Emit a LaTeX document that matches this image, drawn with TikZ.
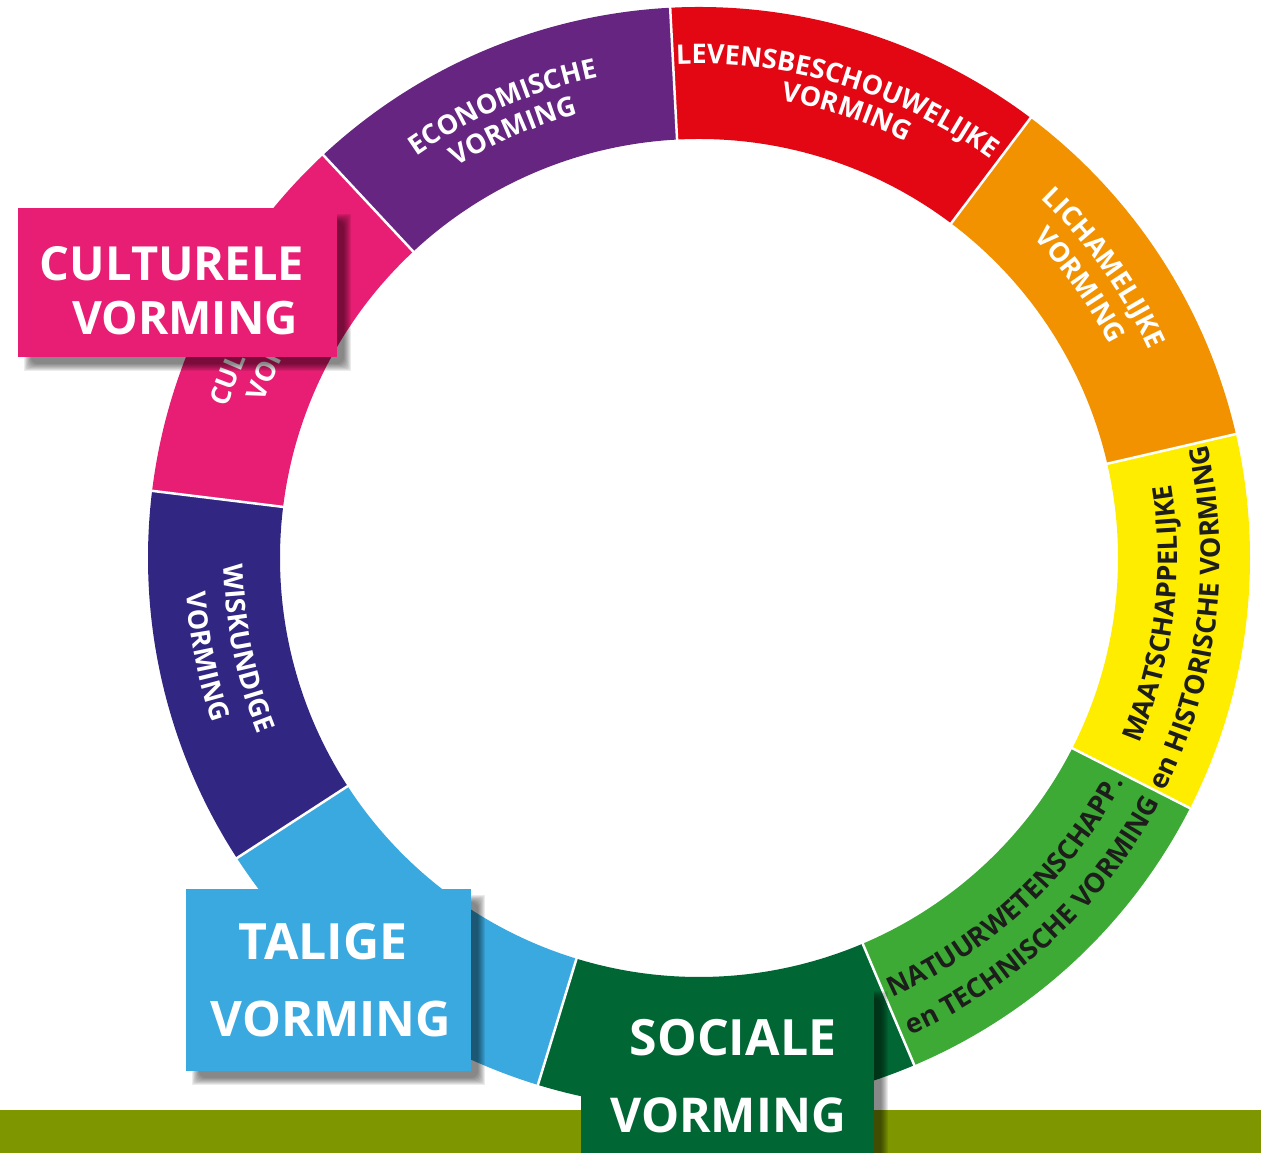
\documentclass[tikz,border=0pt]{standalone}
\usepackage{fontspec}
\setmainfont{Open Sans}
\newfontfamily\ringfont{Open Sans}
\newfontfamily\boxfont{Open Sans}
\usetikzlibrary{decorations.text,calc}
\definecolor{cPurple}{RGB}{101,37,129}
\definecolor{cRed}{RGB}{227,6,19}
\definecolor{cOrange}{RGB}{243,146,0}
\definecolor{cYellow}{RGB}{255,237,0}
\definecolor{cGreen}{RGB}{61,170,53}
\definecolor{cDkGreen}{RGB}{0,102,51}
\definecolor{cLtBlue}{RGB}{58,169,224}
\definecolor{cNavy}{RGB}{49,39,131}
\definecolor{cPink}{RGB}{231,30,115}
\definecolor{cBar}{RGB}{126,150,0}
\definecolor{cInk}{RGB}{29,29,27}
\newcommand\ringseg[3]{\fill[#3] (#1:419) -- (#1:551) arc[start angle=#1,end angle=#2,radius=551] -- (#2:419) arc[start angle=#2,end angle=#1,radius=419] -- cycle;}
% #1 start angle, #2 end angle, #3 baseline radius, #4 colour, #5 text
\newcommand\ringtext[5]{\path[decorate,decoration={text along path,text align=center,text color=#4,text={|\ringfont\bfseries\fontsize{27}{27}\selectfont|#5}}] (#1:#3) arc[start angle=#1,end angle=#2,radius=#3];}
\newcommand\ringtextleft[5]{\path[decorate,decoration={text along path,text align=left,text color=#4,text={|\ringfont\bfseries\fontsize{27}{27}\selectfont|#5}}] (#1:#3) arc[start angle=#1,end angle=#2,radius=#3];}
% soft shadow: #1 = lower-left corner, #2 = upper-right corner (already offset)
\newcommand\softshadow[2]{%
  \foreach \k in {0,...,7}{%
    \fill[black, opacity=0.075, rounded corners=\k pt] ($(#1)+(\k,\k)-(4,4)$) rectangle ($(#2)-(\k,\k)+(4,4)$);}}
\begin{document}
\begin{tikzpicture}[x=1pt,y=1pt,
  lbl/.style={font=\boxfont\bfseries\fontsize{50}{50}\selectfont, text=white, inner sep=0pt},
  card/.style={inner sep=0pt},
  sep/.style={white, line width=2.5pt}]
\useasboundingbox (0,0) rectangle (1261,1153);
\fill[white] (0,0) rectangle (1261,1153);
\begin{scope}[shift={(699,595)}]
  \ringseg{93}{133}{cPurple}
  \ringseg{53}{93}{cRed}
  \ringseg{13}{53}{cOrange}
  \ringseg{-27}{13}{cYellow}
  \ringseg{-67}{-27}{cGreen}
  \ringseg{-107}{-67}{cDkGreen}
  \ringseg{-147}{-107}{cLtBlue}
  \ringseg{173}{213}{cNavy}
  \ringseg{133}{173}{cPink}
  \foreach \a in {93,53,13,-27,-67,-107,-147,173,133}
    \draw[sep] (\a:417) -- (\a:553);
  % upper half: clockwise, letters pointing outward
  \ringtext{148.5}{78.5}{491}{white}{ECONOMISCHE}
  \ringtext{148.5}{78.5}{460}{white}{VORMING}
  \ringtext{108.2}{38.2}{494}{white}{LEVENSBESCHOUWELIJKE}
  \ringtext{106.7}{36.7}{465}{white}{VORMING}
  \ringtext{70.6}{0.6}{496}{white}{LICHAMELIJKE}
  \ringtext{70.6}{0.6}{463}{white}{VORMING}
  \ringtextleft{162.3}{100}{495}{white}{CUL}
  \ringtextleft{160.3}{100}{462}{white}{VOR}
  % lower half: counter-clockwise, letters pointing inward
  \ringtext{-42}{28}{478}{cInk}{MAATSCHAPPELIJKE}
  \ringtext{-42}{28}{521}{cInk}{en HISTORISCHE VORMING}
  \ringtext{-82}{-12}{480}{cInk}{NATUURWETENSCHAPP.}
  \ringtext{-82}{-12}{522}{cInk}{en TECHNISCHE VORMING}
  \ringtext{156.3}{226.3}{475}{white}{WISKUNDIGE}
  \ringtext{156.3}{226.3}{514}{white}{VORMING}
\end{scope}
\fill[cBar] (0,0) rectangle (1261,43);
% culturele
\softshadow{28,786}{347,935}
\node[card, fill=cPink, minimum width=319pt, minimum height=149pt] (cult) at (177.5,870.5) {};
\node[lbl, font=\boxfont\bfseries\fontsize{47}{47}\selectfont] (cultA) at (172,889) {CULTURELE};
\node[lbl, font=\boxfont\bfseries\fontsize{46}{46}\selectfont] (cultB) at (185,835) {VORMING};
% talige
\softshadow{196,72}{481,254}
\node[card, fill=cLtBlue, minimum width=285pt, minimum height=182pt] (tal) at (328.5,173) {};
\node[lbl] (talA) at (323,211) {TALIGE};
\node[lbl, font=\boxfont\bfseries\fontsize{49}{49}\selectfont] (talB) at (331,134) {VORMING};
% sociale
\softshadow{591,-20}{884,158}
\node[card, fill=cDkGreen, minimum width=293pt, minimum height=180pt] (soc) at (727.5,78) {};
\node[lbl] (socA) at (733,115) {SOCIALE};
\node[lbl, font=\boxfont\bfseries\fontsize{48}{48}\selectfont] (socB) at (728,38) {VORMING};
\end{tikzpicture}
\end{document}
